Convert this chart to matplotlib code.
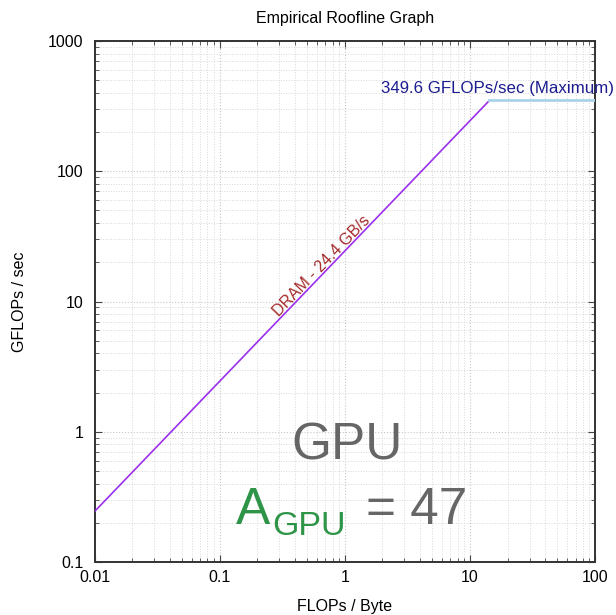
import matplotlib
matplotlib.use("Agg")
import matplotlib.pyplot as plt
from matplotlib.ticker import LogLocator, NullFormatter

plt.rcParams['font.family'] = ['Liberation Sans', 'DejaVu Sans']

# Data
dram_x = [0.01, 14.33]
dram_y = [0.244, 349.6]
peak_x = [14.33, 100.0]
peak_y = [349.6, 349.6]
dram_label = "DRAM - 24.4 GB/s"
peak_label = "349.6 GFLOPs/sec (Maximum)"
x_ticks = [0.01, 0.1, 1, 10, 100]
x_ticklabels = ["0.01", "0.1", "1", "10", "100"]
y_ticks = [0.1, 1, 10, 100, 1000]
y_ticklabels = ["0.1", "1", "10", "100", "1000"]

W, H = 616, 615
fig = plt.figure(figsize=(W / 100, H / 100), dpi=100)
L, R, T, B = 94.5, 595, 41, 562
ax = fig.add_axes([L / W, 1 - B / H, (R - L) / W, (B - T) / H])

ax.set_xscale('log')
ax.set_yscale('log')
ax.set_xlim(0.01, 100)
ax.set_ylim(0.1, 1000)

ax.plot(dram_x, dram_y, color='#9a30ec', lw=1.2, zorder=3)
ax.plot(peak_x, peak_y, color='#a8d4ea', lw=2.0, zorder=3)

ax.set_xticks(x_ticks)
ax.set_xticklabels(x_ticklabels)
ax.set_yticks(y_ticks)
ax.set_yticklabels(y_ticklabels)
ax.xaxis.set_minor_locator(LogLocator(base=10, subs=range(2, 10), numticks=20))
ax.yaxis.set_minor_locator(LogLocator(base=10, subs=range(2, 10), numticks=20))
ax.xaxis.set_minor_formatter(NullFormatter())
ax.yaxis.set_minor_formatter(NullFormatter())

ax.tick_params(which='both', direction='in', top=True, right=True, color='#444444')
ax.tick_params(which='major', length=5, width=0.8)
ax.tick_params(which='minor', length=3, width=0.6)
ax.tick_params(axis='x', which='major', pad=6, labelsize=11.5)
ax.tick_params(axis='y', which='major', pad=8, labelsize=11.5)

ax.grid(True, which='major', color='#c8c8c8', linestyle=':', lw=0.8)
ax.grid(True, which='minor', color='#d8d8d8', linestyle=':', lw=0.7)
ax.set_axisbelow(True)

for s in ax.spines.values():
    s.set_color('#333333')
    s.set_linewidth(1.4)

ax.set_title("Empirical Roofline Graph", fontsize=11.5, pad=13)
ax.set_xlabel("FLOPs / Byte", fontsize=11.5, labelpad=10)
ax.set_ylabel("GFLOPs / sec", fontsize=11.5, labelpad=15)

def px(x, y):
    return ((x - L) / (R - L), (B - y) / (B - T))

# DRAM label
ax.text(*px(322, 266), dram_label, transform=ax.transAxes, rotation=46.2,
        rotation_mode='anchor', ha='center', va='center', color='#a52a2a', fontsize=11.5)
# Peak label
ax.text(*px(381, 89), peak_label, transform=ax.transAxes, ha='left', va='center',
        color='#1c1c90', fontsize=12.2, clip_on=False)

# Big annotation
ax.text(*px(347, 460), "GPU", transform=ax.transAxes, ha='center', va='baseline',
        color='#666666', fontsize=37)
ax.text(*px(236, 524), "A", transform=ax.transAxes, ha='left', va='baseline',
        color='#2e9447', fontsize=37)
ax.text(*px(272, 535), "GPU", transform=ax.transAxes, ha='left', va='baseline',
        color='#2e9447', fontsize=24.5)
ax.text(*px(366, 524), "= 47", transform=ax.transAxes, ha='left', va='baseline',
        color='#666666', fontsize=37)

fig.savefig("out.png", dpi=100)
